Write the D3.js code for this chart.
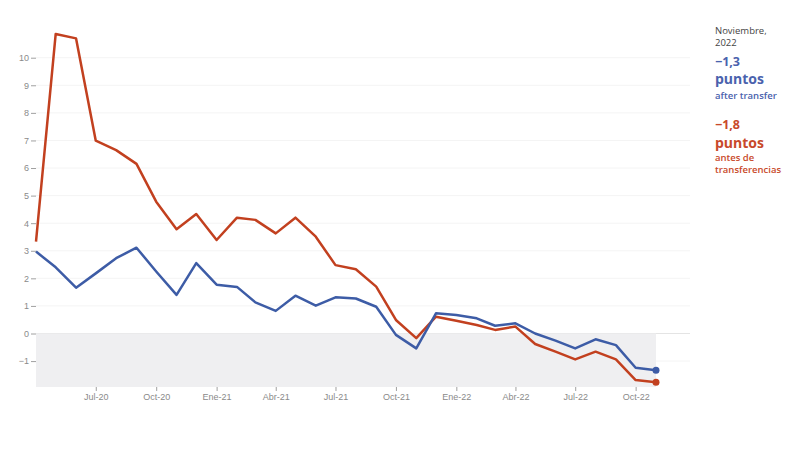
<!DOCTYPE html>
<html>
<head>
<meta charset="utf-8">
<script src="https://cdn.jsdelivr.net/npm/d3@7"></script>
<style>
  body { margin: 0; background: #fff; }
  svg { font-family: "Open Sans", sans-serif; }
  .tick text { fill: #8a8a8a; font-size: 9px; }
  .tick line { stroke: #a0a0a0; }
</style>
</head>
<body>
<div id="chart"></div>
<script>
// monthly series, Apr-2020 .. Nov-2022
const months = [
    "2020-04", "2020-05", "2020-06", "2020-07", "2020-08", "2020-09", "2020-10", "2020-11", "2020-12",
    "2021-01", "2021-02", "2021-03", "2021-04", "2021-05", "2021-06", "2021-07", "2021-08", "2021-09",
    "2021-10", "2021-11", "2021-12", "2022-01", "2022-02", "2022-03", "2022-04", "2022-05", "2022-06",
    "2022-07", "2022-08", "2022-09", "2022-10", "2022-11"
];
const afterTransfer = [
    2.97, 2.4, 1.66, 2.18, 2.73, 3.11, 2.25, 1.4, 2.55,
    1.77, 1.69, 1.13, 0.82, 1.37, 1.01, 1.31, 1.27, 0.97,
    -0.05, -0.54, 0.73, 0.67, 0.55, 0.28, 0.37, 0.0, -0.26,
    -0.54, -0.21, -0.42, -1.24, -1.33
];
const beforeTransfer = [
    3.33, 10.86, 10.7, 6.99, 6.65, 6.15, 4.78, 3.78, 4.33,
    3.39, 4.2, 4.12, 3.63, 4.2, 3.51, 2.48, 2.33, 1.7,
    0.49, -0.17, 0.61, 0.46, 0.31, 0.13, 0.25, -0.38, -0.66,
    -0.94, -0.66, -0.94, -1.69, -1.77
];
const yTicks = [-1, 0, 1, 2, 3, 4, 5, 6, 7, 8, 9, 10];
const xTicks = ["2020-07", "2020-10", "2021-01", "2021-04", "2021-07", "2021-10", "2022-01", "2022-04", "2022-07", "2022-10"];
const monthNames = ["Ene", "Feb", "Mar", "Abr", "May", "Jun", "Jul", "Ago", "Sep", "Oct", "Nov", "Dic"];

const width = 800;
const height = 450;
const blue = "#3d5ca6";
const red = "#c2401f";

const parse = d3.timeParse("%Y-%m");
const dates = months.map(parse);

const svg = d3.select("#chart").append("svg")
    .attr("width", width)
    .attr("height", height);

const x = d3.scaleTime()
    .domain([dates[0], dates[dates.length - 1]])
    .range([36, 656]);

const y = d3.scaleLinear()
    .domain([0, 10])
    .range([333.5, 57.7]);

const yBottom = -1.94;

// faint grid
svg.append("g")
    .selectAll("line")
    .data(yTicks)
    .enter().append("line")
    .attr("x1", 36)
    .attr("x2", 690)
    .attr("y1", d => y(d))
    .attr("y2", d => y(d))
    .attr("stroke", d => d === 0 ? "#e4e4e4" : "#f4f4f4")
    .attr("stroke-width", 1);

// shaded negative zone
svg.append("rect")
    .attr("x", x(dates[0]))
    .attr("y", y(0))
    .attr("width", x(dates[dates.length - 1]) - x(dates[0]))
    .attr("height", y(yBottom) - y(0))
    .attr("fill", "#efeff1");

// axes
const yAxis = svg.append("g")
    .attr("transform", "translate(36,0)")
    .call(d3.axisLeft(y).tickValues(yTicks).tickSize(5).tickPadding(2));
yAxis.select(".domain").remove();

const xAxis = svg.append("g")
    .attr("transform", `translate(0,${y(yBottom)})`)
    .call(d3.axisBottom(x)
        .tickValues(xTicks.map(parse))
        .tickSize(4)
        .tickPadding(3)
        .tickFormat(d => monthNames[d.getMonth()] + "-" + d3.timeFormat("%y")(d)));
xAxis.select(".domain").remove();

// lines
const line = d3.line()
    .x((d, i) => x(dates[i]))
    .y(d => y(d));

[[beforeTransfer, red], [afterTransfer, blue]].forEach(([series, color]) => {
    svg.append("path")
        .datum(series)
        .attr("fill", "none")
        .attr("stroke", color)
        .attr("stroke-width", 2.5)
        .attr("stroke-linejoin", "round")
        .attr("d", line);

    svg.append("circle")
        .attr("cx", x(dates[dates.length - 1]))
        .attr("cy", y(series[series.length - 1]))
        .attr("r", 3.5)
        .attr("fill", color);
});

// legend on the right
const legend = [
    { text: "Noviembre,", y: 34, size: 9.5, weight: 400, color: "#444" },
    { text: "2022", y: 45.5, size: 9.5, weight: 400, color: "#444" },
    { text: "\u22121,3", y: 66, size: 12.5, weight: 700, color: "#4a62ad" },
    { text: "puntos", y: 84, size: 14, weight: 700, color: "#4a62ad" },
    { text: "after transfer", y: 99, size: 9.5, weight: 600, color: "#4a62ad" },
    { text: "\u22121,8", y: 129, size: 12.5, weight: 700, color: "#c8492a" },
    { text: "puntos", y: 147.5, size: 14, weight: 700, color: "#c8492a" },
    { text: "antes de", y: 160.5, size: 9.5, weight: 600, color: "#c8492a" },
    { text: "transferencias", y: 172.5, size: 9.5, weight: 600, color: "#c8492a" }
];

svg.append("g")
    .selectAll("text")
    .data(legend)
    .enter().append("text")
    .attr("x", 715)
    .attr("y", d => d.y)
    .attr("font-size", d => d.size)
    .attr("font-weight", d => d.weight)
    .attr("fill", d => d.color)
    .text(d => d.text);
</script>
</body>
</html>
